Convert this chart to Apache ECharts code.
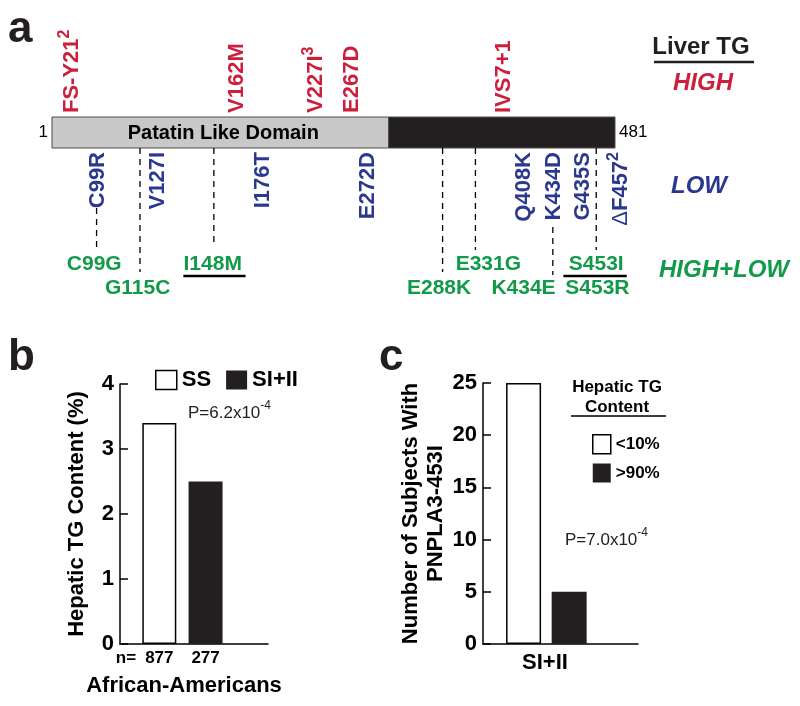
<!DOCTYPE html>
<html>
<head>
<meta charset="utf-8">
<script src="https://cdn.jsdelivr.net/npm/echarts@6/dist/echarts.min.js"></script>
<style>
  html, body { margin: 0; padding: 0; background: #fff; }
  #chart { width: 800px; height: 706px; }
</style>
</head>
<body>
<div id="chart"></div>
<script>
// panel a: PNPLA3 protein (1-481), mutations placed schematically along it
const domainNames = ['Patatin Like Domain', '']
const domainStarts = [1, 288]
const domainEnds = [288, 481]

const highNames = ['FS-Y21', 'V162M', 'V227I', 'E267D', 'IVS7+1']
const highSups = ['2', '', '3', '', '']
const highPos = [18, 159, 226, 257, 386]

const lowNames = ['C99R', 'V127I', 'I176T', 'E272D', 'Q408K', 'K434D', 'G435S', 'F457']
const lowPre = ['', '', '', '', '', '', '', 'Δ']
const lowSups = ['', '', '', '', '', '', '', '2']
const lowPos = [40, 91, 181, 270, 403, 429, 454, 486]

const bothNames = ['C99G', 'G115C', 'I148M', 'E288K', 'E331G', 'K434E', 'S453I', 'S453R']
const bothPos = [37, 74, 138, 331, 373, 403, 465, 466]
const bothRow = [0, 1, 0, 1, 0, 1, 0, 1]

// dashed connectors (residue position, top track, bottom track)
const linkPos = [39, 76, 139, 334, 362, 428, 465]
const linkTop = [208, 148, 148, 148, 148, 227, 148]
const linkBottom = [247, 272, 246, 272, 250, 275, 250]
// underlines below I148M and S453I
const underStart = [113, 437]
const underEnd = [166, 491]

// panel b
const bGroups = ['SS', 'SI+II']
const bValues = [3.4, 2.5]
const bCounts = [877, 277]

// panel c
const cGroups = ['<10%', '>90%']
const cValues = [25, 5]

const FONT = '"Liberation Sans", Arial, Helvetica, sans-serif'
const RED = '#cc1f3c'
const BLUE = '#2b388f'
const GREEN = '#129a4b'
const INK = '#231f20'
const domainColors = ['#c8c8c8', INK]

const BAR_TOP = 117
const BAR_BOTTOM = 148
const HIGH_Y = 113
const LOW_Y = 152
const ROW_Y = [264, 288]
const ULINE_Y = 276
const B_SLOTS = [0.85, 1.85]
const C_SLOTS = [0.89, 1.89]

const withSup = (pre, name, sup) =>
  (pre ? `{d|${pre}}` : '') + name + (sup ? `{sup|${sup}}` : '')

const markRich = {
  sup: { fontSize: 16, fontWeight: 'bold', fontFamily: FONT, verticalAlign: 'top', lineHeight: 16 },
  d: { fontSize: 22, fontWeight: 'normal', fontFamily: FONT, lineHeight: 30 }
}

const chart = echarts.init(document.getElementById('chart'))

const valueAxisStyle = {
  axisLine: { show: true, lineStyle: { color: '#000', width: 1.5 } },
  axisTick: { show: true, inside: true, length: 8, lineStyle: { color: '#000', width: 1.5 } },
  axisLabel: { color: '#000', fontSize: 22, fontWeight: 'bold', fontFamily: FONT, margin: 6 },
  splitLine: { show: false },
  nameLocation: 'middle',
  nameRotate: 90,
  nameTextStyle: { color: '#000', fontSize: 22, fontWeight: 'bold', fontFamily: FONT, lineHeight: 25 }
}

const baseAxisStyle = {
  type: 'value',
  axisLine: { show: true, onZero: false, lineStyle: { color: '#000', width: 1.5 } },
  axisTick: { show: false },
  axisLabel: { show: false },
  splitLine: { show: false }
}

// shared settings for the text-only mark series of panel a
const markSeries = {
  type: 'scatter', xAxisIndex: 0, yAxisIndex: 0, symbolSize: 0, silent: true, clip: false,
  itemStyle: { opacity: 1 }
}

const option = {
  animation: false,
  backgroundColor: '#fff',
  textStyle: { fontFamily: FONT },
  grid: [
    { left: 52, top: 0, width: 563, height: 300, containLabel: false, outerBoundsMode: 'none' },
    { left: 120, top: 384, width: 148, height: 260, containLabel: false, outerBoundsMode: 'none' },
    { left: 483, top: 383, width: 155, height: 261, containLabel: false, outerBoundsMode: 'none' }
  ],
  xAxis: [
    { type: 'value', gridIndex: 0, min: 1, max: 481, show: false },
    { ...baseAxisStyle, gridIndex: 1, min: 0, max: 3.2 },
    { ...baseAxisStyle, gridIndex: 2, min: 0, max: 3.4 }
  ],
  yAxis: [
    { type: 'value', gridIndex: 0, min: 0, max: 300, inverse: true, show: false },
    { type: 'value', gridIndex: 1, min: 0, max: 4, interval: 1, ...valueAxisStyle,
      name: 'Hepatic TG Content (%)', nameGap: 31 },
    { type: 'value', gridIndex: 2, min: 0, max: 25, interval: 5, ...valueAxisStyle,
      name: 'Number of Subjects With\nPNPLA3-453I', nameGap: 33 }
  ],
  legend: [
    {
      data: bGroups.map((g, i) => ({
        name: g,
        itemStyle: i === 0 ? { color: '#fff', borderColor: '#000', borderWidth: 1.5 } : { color: INK, borderWidth: 0 }
      })),
      left: 150, top: 364, itemWidth: 21, itemHeight: 19, itemGap: 15, icon: 'rect',
      selectedMode: false,
      textStyle: { color: '#000', fontSize: 22, fontWeight: 'bold', fontFamily: FONT }
    },
    {
      data: cGroups.map((g, i) => ({
        name: g,
        itemStyle: i === 0 ? { color: '#fff', borderColor: '#000', borderWidth: 1.5 } : { color: INK, borderWidth: 0 }
      })),
      orient: 'vertical', left: 587, top: 429, itemWidth: 18, itemHeight: 19, itemGap: 9, icon: 'rect',
      selectedMode: false,
      textStyle: { color: '#000', fontSize: 17, fontWeight: 'bold', fontFamily: FONT }
    }
  ],
  series: [
    // protein bar
    {
      type: 'custom', xAxisIndex: 0, yAxisIndex: 0, silent: true,
      data: domainStarts.map((s, i) => [s, domainEnds[i], i]),
      renderItem: (params, api) => {
        const p0 = api.coord([api.value(0), BAR_TOP])
        const p1 = api.coord([api.value(1), BAR_BOTTOM])
        const i = api.value(2)
        return {
          type: 'group',
          children: [
            { type: 'rect', shape: { x: p0[0], y: p0[1], width: p1[0] - p0[0], height: p1[1] - p0[1] },
              style: { fill: domainColors[i], stroke: '#4d4d4d', lineWidth: 1 } },
            { type: 'text', style: { text: domainNames[i], x: (p0[0] + p1[0]) / 2 + 3, y: (p0[1] + p1[1]) / 2 + 1,
              align: 'center', verticalAlign: 'middle', font: 'bold 20px ' + FONT, fill: '#000' } }
          ]
        }
      }
    },
    // residue numbers at both ends
    {
      ...markSeries,
      data: [
        { value: [domainStarts[0], (BAR_TOP + BAR_BOTTOM) / 2], label: { position: 'left', formatter: String(domainStarts[0]) } },
        { value: [domainEnds[1], (BAR_TOP + BAR_BOTTOM) / 2], label: { position: 'right', formatter: String(domainEnds[1]) } }
      ],
      label: { show: true, distance: 4, color: '#000', fontSize: 17, fontFamily: FONT }
    },
    // dashed connectors
    {
      type: 'custom', xAxisIndex: 0, yAxisIndex: 0, silent: true,
      data: linkPos.map((x, i) => [x, linkTop[i], linkBottom[i]]),
      renderItem: (params, api) => {
        const a = api.coord([api.value(0), api.value(1)])
        const b = api.coord([api.value(0), api.value(2)])
        return { type: 'line', shape: { x1: a[0], y1: a[1], x2: b[0], y2: b[1] },
          style: { stroke: '#000', lineWidth: 1.3, lineDash: [6, 5] } }
      }
    },
    // underlines
    {
      type: 'custom', xAxisIndex: 0, yAxisIndex: 0, silent: true,
      data: underStart.map((s, i) => [s, underEnd[i], ULINE_Y]),
      renderItem: (params, api) => {
        const a = api.coord([api.value(0), api.value(2)])
        const b = api.coord([api.value(1), api.value(2)])
        return { type: 'line', shape: { x1: a[0], y1: a[1], x2: b[0], y2: b[1] },
          style: { stroke: '#000', lineWidth: 2.5 } }
      }
    },
    // HIGH mutations (above the bar)
    {
      ...markSeries,
      data: highNames.map((n, i) => [highPos[i], HIGH_Y, withSup('', n, highSups[i])]),
      label: {
        show: true, position: 'inside', align: 'left', verticalAlign: 'middle', rotate: 90,
        formatter: p => p.data[2], color: RED, fontSize: 22, fontWeight: 'bold', fontFamily: FONT,
        lineHeight: 30, opacity: 1, rich: markRich
      }
    },
    // LOW mutations (below the bar)
    {
      ...markSeries,
      data: lowNames.map((n, i) => [lowPos[i], LOW_Y, withSup(lowPre[i], n, lowSups[i])]),
      label: {
        show: true, position: 'inside', align: 'right', verticalAlign: 'middle', rotate: 90,
        formatter: p => p.data[2], color: BLUE, fontSize: 22, fontWeight: 'bold', fontFamily: FONT,
        lineHeight: 30, opacity: 1, rich: markRich
      }
    },
    // HIGH+LOW mutations
    {
      ...markSeries,
      data: bothNames.map((n, i) => [bothPos[i], ROW_Y[bothRow[i]], n]),
      label: {
        show: true, position: 'inside', align: 'center', verticalAlign: 'middle',
        formatter: p => p.data[2], color: GREEN, fontSize: 21, fontWeight: 'bold', fontFamily: FONT, opacity: 1
      }
    },
    // panel b
    ...bGroups.map((g, i) => ({
      name: g, type: 'bar', xAxisIndex: 1, yAxisIndex: 1, barWidth: 34, barGap: '-100%', silent: true,
      data: [[B_SLOTS[i], bValues[i]]],
      itemStyle: i === 0 ? { color: '#fff', borderColor: '#000', borderWidth: 1.5 } : { color: INK },
      label: { show: true, position: 'bottom', distance: 6, formatter: String(bCounts[i]),
        color: '#000', fontSize: 17, fontWeight: 'bold', fontFamily: FONT }
    })),
    // panel c
    ...cGroups.map((g, i) => ({
      name: g, type: 'bar', xAxisIndex: 2, yAxisIndex: 2, barWidth: 35, barGap: '-100%', silent: true,
      data: [[C_SLOTS[i], cValues[i]]],
      itemStyle: i === 0 ? { color: '#fff', borderColor: '#000', borderWidth: 1.5 } : { color: INK }
    }))
  ],
  graphic: [
    { type: 'text', x: 8, y: 30, style: { text: 'a', font: 'bold 44px ' + FONT, fill: INK, align: 'left', verticalAlign: 'middle' } },
    { type: 'text', x: 8, y: 358, style: { text: 'b', font: 'bold 44px ' + FONT, fill: INK, align: 'left', verticalAlign: 'middle' } },
    { type: 'text', x: 379, y: 358, style: { text: 'c', font: 'bold 44px ' + FONT, fill: INK, align: 'left', verticalAlign: 'middle' } },

    { type: 'text', x: 701, y: 47, style: { text: 'Liver TG', font: 'bold 24px ' + FONT, fill: INK, align: 'center', verticalAlign: 'middle' } },
    { type: 'line', shape: { x1: 654, y1: 62, x2: 754, y2: 62 }, style: { stroke: INK, lineWidth: 2.5 } },
    { type: 'text', x: 703, y: 83, style: { text: 'HIGH', font: 'italic bold 24px ' + FONT, fill: RED, align: 'center', verticalAlign: 'middle' } },
    { type: 'text', x: 699, y: 186, style: { text: 'LOW', font: 'italic bold 24px ' + FONT, fill: BLUE, align: 'center', verticalAlign: 'middle' } },
    { type: 'text', x: 724, y: 270, style: { text: 'HIGH+LOW', font: 'italic bold 24px ' + FONT, fill: GREEN, align: 'center', verticalAlign: 'middle' } },

    { type: 'text', x: 188, y: 413, style: {
      text: 'P=6.2x10{s|-4}', fontSize: 17, fontFamily: FONT, fill: '#222', lineHeight: 26,
      align: 'left', verticalAlign: 'middle',
      rich: { s: { fontSize: 12, fontFamily: FONT, fill: '#222', verticalAlign: 'top', lineHeight: 12 } } } },
    { type: 'text', x: 126, y: 658, style: { text: 'n=', font: 'bold 17px ' + FONT, fill: '#000', align: 'center', verticalAlign: 'middle' } },
    { type: 'text', x: 184, y: 686, style: { text: 'African-Americans', font: 'bold 22px ' + FONT, fill: '#000', align: 'center', verticalAlign: 'middle' } },

    { type: 'text', x: 617, y: 397, style: { text: 'Hepatic TG\nContent', fontSize: 17, fontWeight: 'bold', fontFamily: FONT,
      lineHeight: 20, fill: '#000', align: 'center', verticalAlign: 'middle' } },
    { type: 'line', shape: { x1: 571, y1: 416, x2: 666, y2: 416 }, style: { stroke: '#000', lineWidth: 1.5 } },
    { type: 'text', x: 565, y: 540, style: {
      text: 'P=7.0x10{s|-4}', fontSize: 17, fontFamily: FONT, fill: '#222', lineHeight: 26,
      align: 'left', verticalAlign: 'middle',
      rich: { s: { fontSize: 12, fontFamily: FONT, fill: '#222', verticalAlign: 'top', lineHeight: 12 } } } },
    { type: 'text', x: 545, y: 663, style: { text: 'SI+II', font: 'bold 22px ' + FONT, fill: '#000', align: 'center', verticalAlign: 'middle' } }
  ]
}

chart.setOption(option)
window.addEventListener('resize', () => chart.resize())
</script>
</body>
</html>
